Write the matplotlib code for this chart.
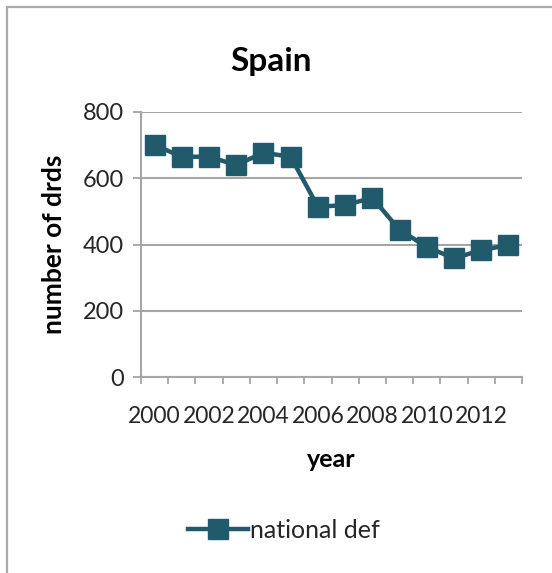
import matplotlib
matplotlib.use("Agg")
import matplotlib.pyplot as plt
from matplotlib.patches import Rectangle
from matplotlib.ticker import FixedLocator, NullFormatter
from matplotlib.lines import Line2D

years = [2000, 2001, 2002, 2003, 2004, 2005, 2006, 2007,
         2008, 2009, 2010, 2011, 2012, 2013]
national_def = [700, 665, 665, 640, 677, 665, 514, 519,
                541, 444, 393, 358, 383, 398]
y_ticks = [0, 200, 400, 600, 800]
x_labels = ["2000", "2002", "2004", "2006", "2008", "2010", "2012"]

plt.rcParams['font.family'] = ['Lato', 'DejaVu Sans']
line_color = "#215b6b"
grid_color = "#a6a6a6"
text_color = "#262626"

W, H = 552, 573
fig = plt.figure(figsize=(W / 100, H / 100), dpi=100)
fig.patch.set_facecolor("white")

# light frame around the chart area
fig.add_artist(Rectangle((7 / W, -0.05), 1.1, 1 - 7 / H + 0.05,
                         transform=fig.transFigure, fill=False,
                         edgecolor="#ababab", linewidth=1.6))

ax = fig.add_axes([141 / W, 1 - 377 / H, (522 - 141) / W, (377 - 112) / H])
idx = list(range(len(years)))
ax.plot(idx, national_def, color=line_color, linewidth=3.2,
        marker="s", markersize=14, markerfacecolor=line_color,
        markeredgecolor=line_color, solid_joinstyle="miter")

ax.set_xlim(-0.5, len(years) - 0.5)
ax.set_ylim(0, 800)
ax.set_yticks(y_ticks)
ax.yaxis.grid(True, color=grid_color, linewidth=1.5)
ax.set_axisbelow(True)

# category boundaries carry the tick marks, labels sit on every other category
ax.xaxis.set_major_locator(FixedLocator([i - 0.5 for i in range(len(years) + 1)]))
ax.xaxis.set_major_formatter(NullFormatter())
label_pos = [years.index(int(s)) for s in x_labels]
ax.xaxis.set_minor_locator(FixedLocator(label_pos))
ax.set_xticklabels(x_labels, minor=True)
ax.tick_params(axis="x", which="major", length=5, width=1.3, color=grid_color,
               direction="out")
ax.tick_params(axis="x", which="minor", length=0, pad=21, labelsize=16.5,
               labelcolor=text_color)
ax.tick_params(axis="y", length=6, width=1.3, color=grid_color, pad=6,
               labelsize=17, labelcolor=text_color)

for side in ("top", "right"):
    ax.spines[side].set_visible(False)
for side in ("left", "bottom"):
    ax.spines[side].set_color(grid_color)
    ax.spines[side].set_linewidth(1.5)

fig.text(271 / W, 1 - 71 / H, "Spain", fontsize=24, fontweight="bold",
         color="black", ha="center", va="baseline")
ax.set_ylabel("number of drds", fontsize=19, fontweight="bold", color="black",
              labelpad=12)
ax.set_xlabel("year", fontsize=18, fontweight="bold", color="black",
              labelpad=15)

handle = Line2D([], [], color=line_color, linewidth=3.2, marker="s",
                markersize=14, markerfacecolor=line_color)
fig.legend([handle], ["national def"], loc="center",
           bbox_to_anchor=(284 / W, 1 - 530 / H), frameon=False,
           fontsize=18, handlelength=2.4, handletextpad=0.1,
           labelcolor=text_color)

fig.savefig("out.png", dpi=100, facecolor="white")
